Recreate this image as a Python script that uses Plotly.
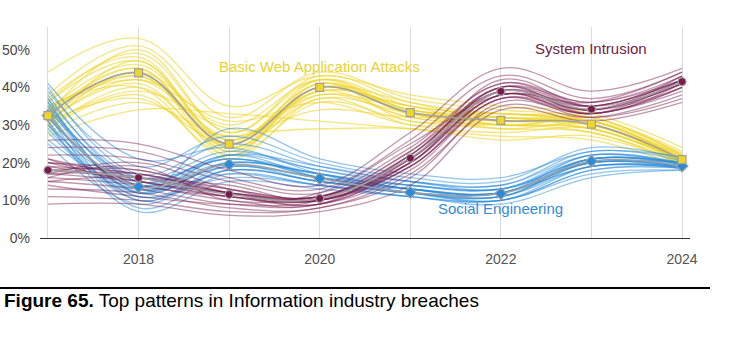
import plotly.graph_objects as go

years = [2017, 2018, 2019, 2020, 2021, 2022, 2023, 2024]
year_labels = ["", "2018", "", "2020", "", "2022", "", "2024"]
pct_ticks = [0, 10, 20, 30, 40, 50]
pct_labels = ["0%", "10%", "20%", "30%", "40%", "50%"]

# Central estimates (% of breaches)
web_attacks = [32.5, 43.8, 24.9, 40.0, 33.3, 31.2, 30.2, 20.8]
system_intrusion = [18.0, 16.0, 11.6, 10.5, 21.2, 38.9, 34.2, 41.5]
social_engineering = [32.5, 13.6, 19.5, 15.8, 12.1, 11.8, 20.4, 19.1]

# Resampled trajectories drawn behind each central line
web_samples = [
    [31, 41, 23, 38, 32, 30, 29, 20],
    [34, 46, 26, 41, 34, 32, 31, 21],
    [29, 38, 22, 36, 31, 29, 28, 19.5],
    [36, 49, 28, 43, 36, 33, 32, 22],
    [33, 44, 30, 42, 33, 31, 30, 21],
    [30, 47, 24, 39, 35, 30, 31, 22.5],
    [35, 40, 21, 37, 30, 28, 29, 20],
    [28, 36, 27, 34, 32, 33, 30, 21.5],
    [38, 51, 32, 44, 37, 34, 32, 23],
    [32, 43, 25, 41, 33, 32, 30, 20.5],
    [27, 34, 33, 31, 29, 27, 26, 19],
    [44, 53, 35, 43, 38, 35, 33, 24],
    [33, 45, 23, 40, 34, 31, 31, 21],
    [31, 42, 26, 39, 32, 30, 29, 20.5],
    [37, 48, 25, 42, 35, 33, 31, 22],
    [30, 39, 29, 29, 29, 26, 27, 19.5],
    [32, 45, 24, 40, 33, 31, 30, 21],
    [34, 43, 27, 38, 34, 30, 31, 20.5],
    [30, 44, 22, 41, 31, 32, 29, 21],
    [36, 47, 26, 40, 36, 31, 32, 22],
    [29, 40, 24, 37, 33, 29, 30, 20],
    [33, 50, 28, 42, 34, 33, 31, 21.5],
    [35, 42, 31, 36, 30, 30, 28, 20],
    [31, 37, 25, 39, 35, 32, 30, 22],
]
social_samples = [
    [35, 12, 20, 17, 13, 12, 21, 19.5],
    [30, 10, 18, 15, 12, 11, 19, 19],
    [38, 15, 22, 18, 14, 13, 22, 20],
    [33, 8, 17, 14, 12, 10, 18, 18.5],
    [40, 17, 25, 19, 15, 14, 23, 20.5],
    [28, 11, 16, 14, 11, 10, 17, 18],
    [36, 14, 21, 16, 13, 12, 20, 19],
    [31, 7, 15, 13, 11, 9, 16, 18],
    [39, 19, 27, 20, 16, 15, 24, 21],
    [26, 13, 19, 16, 14, 13, 21, 20],
    [34, 16, 23, 18, 15, 14, 22, 19.5],
    [37, 12, 29, 21, 17, 16, 23, 21.5],
    [25, 9, 18, 15, 12, 11, 20, 19],
    [32, 14, 20, 17, 13, 12, 19, 18.5],
    [41, 21, 24, 17, 12, 10, 18, 19],
    [29, 12, 22, 19, 15, 13, 21, 20],
    [33, 13, 19, 16, 12, 12, 20, 19],
    [35, 15, 21, 16, 13, 11, 21, 19.5],
    [31, 11, 18, 15, 12, 12, 19, 19],
    [36, 12, 20, 17, 14, 13, 20, 20],
    [30, 14, 22, 16, 12, 11, 21, 19],
    [34, 10, 19, 15, 13, 12, 20, 18.5],
    [37, 16, 21, 17, 13, 12, 22, 19.5],
    [32, 13, 17, 14, 11, 10, 19, 18.5],
]
intrusion_samples = [
    [17, 15, 11, 10, 20, 38, 34, 41],
    [20, 18, 13, 11, 22, 40, 35, 42],
    [15, 13, 9, 9, 19, 37, 33, 40],
    [22, 21, 15, 12, 24, 41, 36, 43],
    [13, 12, 8, 8, 17, 35, 32, 38],
    [19, 17, 12, 11, 23, 39, 34, 42],
    [24, 23, 16, 13, 26, 43, 37, 44],
    [11, 10, 7, 8, 16, 36, 33, 39],
    [18, 16, 14, 10, 21, 42, 35, 41],
    [16, 19, 10, 12, 25, 38, 36, 44],
    [21, 14, 11, 9, 18, 37, 32, 37],
    [26, 25, 18, 14, 28, 45, 39, 45],
    [14, 11, 9, 10, 22, 40, 34, 43],
    [9, 9, 6, 7, 14, 34, 31, 36],
    [20, 15, 12, 11, 20, 39, 35, 42],
    [17, 20, 13, 10, 19, 38, 33, 40],
    [18, 16, 12, 10, 21, 39, 34, 41],
    [19, 15, 11, 11, 21, 38, 35, 42],
    [17, 17, 12, 10, 20, 40, 33, 41],
    [16, 14, 10, 9, 22, 39, 34, 40],
    [20, 17, 13, 11, 23, 41, 35, 43],
    [15, 16, 11, 10, 19, 37, 34, 41],
    [18, 18, 12, 9, 20, 38, 33, 42],
    [21, 16, 12, 11, 21, 40, 36, 42],
]

YELLOW = "rgb(240,214,40)"
BLUE = "rgb(40,140,218)"
MAROON = "rgb(120,26,78)"
GRAY = "rgb(160,160,160)"

fig = go.Figure()


def add_samples(samples, color, opacity):
    for s in samples:
        fig.add_trace(go.Scatter(
            x=years, y=s, mode="lines",
            line=dict(color=color, width=1.3, shape="spline", smoothing=1.1),
            opacity=opacity, hoverinfo="skip", showlegend=False,
        ))


add_samples(web_samples, YELLOW, 0.6)
add_samples(social_samples, BLUE, 0.5)
add_samples(intrusion_samples, MAROON, 0.45)


def add_center(values, color, symbol, size):
    fig.add_trace(go.Scatter(
        x=years, y=values, mode="lines+markers",
        line=dict(color=GRAY, width=1.6, shape="spline", smoothing=1.1),
        marker=dict(symbol=symbol, size=size, color=color,
                    line=dict(color=GRAY, width=1.2)),
        showlegend=False,
    ))


add_center(social_engineering, BLUE, "diamond", 9)
add_center(web_attacks, YELLOW, "square", 8)
add_center(system_intrusion, MAROON, "circle", 8)

label_font = "Liberation Sans, Arial, sans-serif"
fig.add_annotation(x=2020.0, y=45.4, text="Basic Web Application Attacks",
                   showarrow=False, font=dict(family=label_font, size=15, color="rgb(232,210,50)"))
fig.add_annotation(x=2023.0, y=50.4, text="System Intrusion",
                   showarrow=False, font=dict(family=label_font, size=15, color="rgb(110,30,72)"))
fig.add_annotation(x=2022.0, y=7.8, text="Social Engineering",
                   showarrow=False, font=dict(family=label_font, size=15, color="rgb(50,140,215)"))

# Figure caption with rule above it
fig.add_shape(type="line", xref="paper", yref="paper",
              x0=-0.0615, x1=1.0308, y0=-0.2366, y1=-0.2366,
              line=dict(color="black", width=2))
fig.add_annotation(xref="paper", yref="paper", x=-0.058, y=-0.298,
                   xanchor="left", yanchor="middle", showarrow=False,
                   text="<b>Figure 65.</b> Top patterns in Information industry breaches",
                   font=dict(family=label_font, size=19, color="black"))

fig.update_layout(
    width=750, height=345,
    margin=dict(l=40, r=60, t=27, b=107),
    paper_bgcolor="white", plot_bgcolor="white",
    font=dict(family=label_font),
    xaxis=dict(
        range=[2016.912, 2024.088],
        tickvals=years, ticktext=year_labels,
        showgrid=True, gridcolor="rgb(218,218,218)", gridwidth=1,
        showline=True, linecolor="rgb(50,50,50)", linewidth=1.3,
        ticks="", ticklabelstandoff=8, automargin=False,
        tickfont=dict(size=14, color="rgb(85,85,85)"),
        zeroline=False,
    ),
    yaxis=dict(
        range=[0, 56],
        tickvals=pct_ticks, ticktext=pct_labels,
        showgrid=False, showline=False, zeroline=False,
        ticks="", ticklabelstandoff=9, automargin=False,
        tickfont=dict(size=14, color="rgb(70,70,70)"),
    ),
)

fig.write_html("out.html")
